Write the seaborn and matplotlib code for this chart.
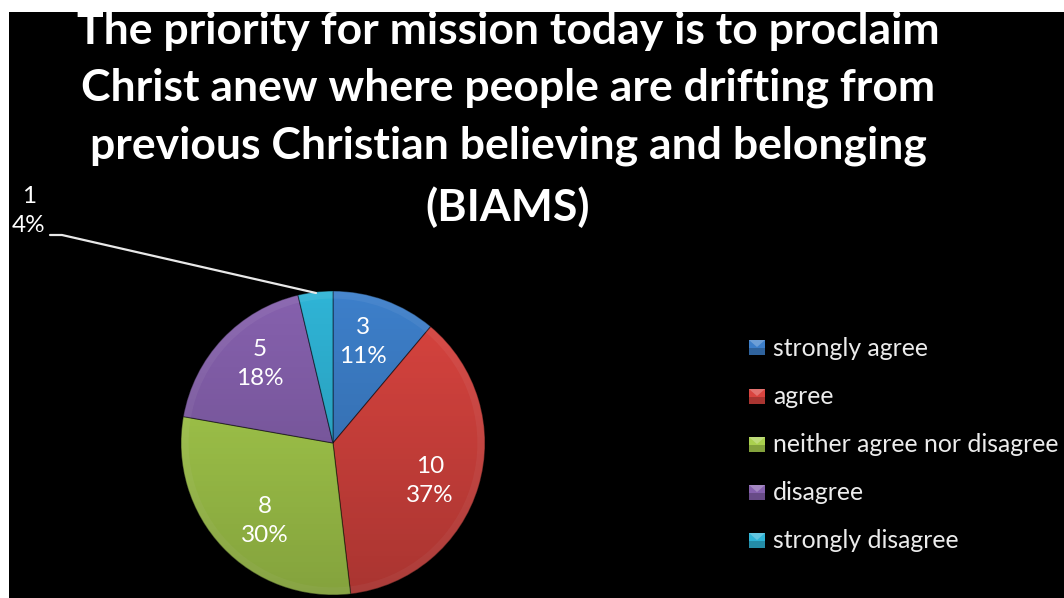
import matplotlib
matplotlib.use('Agg')
import matplotlib.pyplot as plt
from matplotlib.patches import Rectangle, Polygon, Circle
import numpy as np
import seaborn as sns

title_lines = ['The priority for mission today is to proclaim',
               'Christ anew where people are drifting from',
               'previous Christian believing and belonging',
               '(BIAMS)']
categories = ['strongly agree', 'agree', 'neither agree nor disagree', 'disagree', 'strongly disagree']
counts = [3, 10, 8, 5, 1]
percents = ['11%', '37%', '30%', '18%', '4%']
colors = ['#3d7fca', '#d9443f', '#a9d04e', '#8661ae', '#2fb4d6']

sns.set_theme(style='dark')
plt.rcParams['font.family'] = ['Lato', 'DejaVu Sans']


def fx(px):
    return px / 1064


def fy(py):
    return 1 - py / 598


fig = plt.figure(figsize=(10.64, 5.98), dpi=100, facecolor='white')
bg = fig.add_axes([fx(9), 0, 1 - fx(9), fy(12)])
bg.set_facecolor('black')
bg.set_xticks([])
bg.set_yticks([])
for s in bg.spines.values():
    s.set_visible(False)

# pie spans x 181-485, y 291-595
ax = fig.add_axes([fx(181), fy(595), fx(304), 304 / 598])
ax.pie(counts, colors=colors, startangle=90, counterclock=False, radius=1,
       wedgeprops={'edgecolor': (0, 0, 0, 0.45), 'linewidth': 0.8})
# bevelled rim
ax.pie(counts, colors=[(1, 1, 1, 0.06)] * 5, startangle=90, counterclock=False, radius=1,
       wedgeprops={'width': 0.05, 'edgecolor': 'none'})
# top-to-bottom shading over the whole pie
shade = np.zeros((256, 2, 4))
shade[:, :, 3] = np.linspace(0.0, 0.22, 256)[:, None]
im = ax.imshow(shade, extent=(-1, 1, -1, 1), origin='upper', aspect='auto', zorder=5)
im.set_clip_path(Circle((0, 0), 1, transform=ax.transData))
ax.set_xlim(-1, 1)
ax.set_ylim(-1, 1)
ax.axis('off')

label_pos = [(363, 342), (430, 481), (265, 521), (260, 364), (29, 211)]
for i, (x, y) in enumerate(label_pos):
    fig.text(fx(x), fy(y), f'{counts[i]}\n{percents[i]}', color='white', fontsize=17.5,
             ha='center', va='center', linespacing=1.5)

# leader line to the small slice
fig.add_artist(plt.Line2D([fx(50), fx(62), fx(316)], [fy(235), fy(235), fy(293)],
                          color='#e8e8e8', lw=1.6))

title_y = [31, 88, 146, 207]
for line, y in zip(title_lines, title_y):
    fig.text(fx(508), fy(y), line, color='white', fontsize=32, fontweight='bold',
             ha='center', va='center')

legend_y = [347, 396, 444, 492, 540]
for name, c, y in zip(categories, colors, legend_y):
    fig.add_artist(Rectangle((fx(749), fy(y + 8)), fx(16), 15 / 598,
                             transform=fig.transFigure, facecolor=c, edgecolor='none'))
    # darker lower half and lighter top of the small bevelled key
    fig.add_artist(Rectangle((fx(749), fy(y + 8)), fx(16), 7 / 598,
                             transform=fig.transFigure, facecolor=(0, 0, 0, 0.22), edgecolor='none'))
    fig.add_artist(Polygon([(fx(749), fy(y - 7)), (fx(765), fy(y - 7)), (fx(757), fy(y))],
                           transform=fig.transFigure, facecolor=(1, 1, 1, 0.25), edgecolor='none'))
    fig.text(fx(773), fy(y + 1), name, color='#ececec', fontsize=17.8, ha='left', va='center')

fig.savefig('out.png', dpi=100, facecolor=fig.get_facecolor())
